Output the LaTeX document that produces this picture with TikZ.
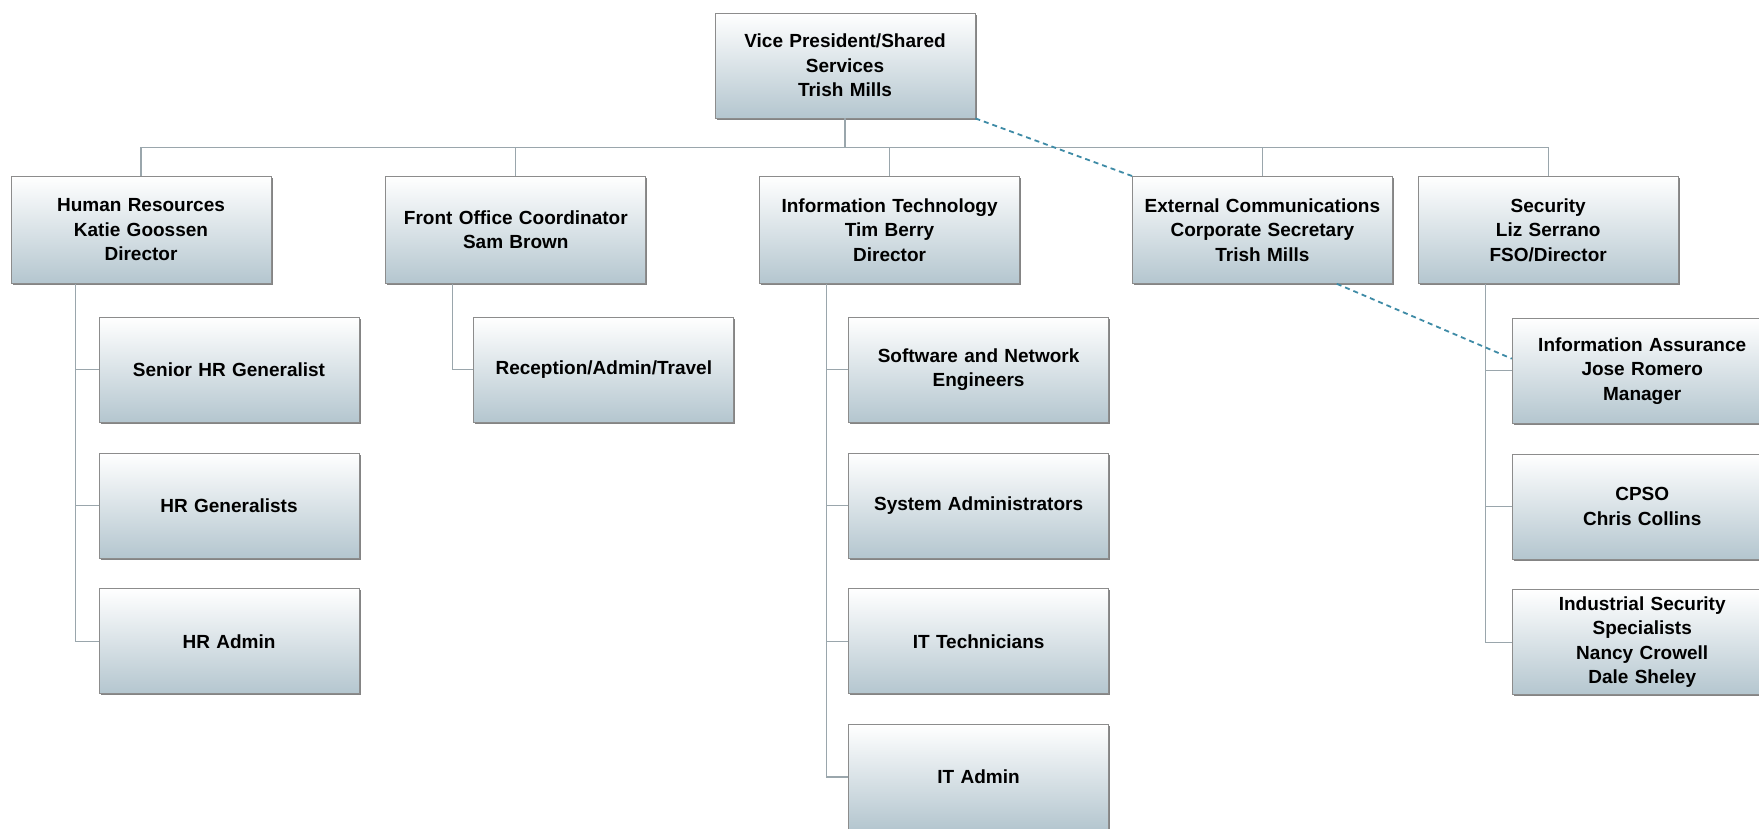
\documentclass[tikz,border=0pt]{standalone}
\usepackage{fontspec}
\setmainfont{Liberation Sans}
\usetikzlibrary{positioning,shadows}
\definecolor{boxblue}{HTML}{B4C6CF}
\definecolor{linegray}{HTML}{9AA6AC}
\definecolor{dashteal}{HTML}{3E8BA6}

\begin{document}
\begin{tikzpicture}
\tikzset{box/.style={draw=black!45, line width=0.8pt, top color=white, bottom color=boxblue,
		drop shadow={shadow xshift=1.6pt, shadow yshift=-1.6pt, fill=black!60, opacity=0.8},
		minimum width=260pt, minimum height=107pt, text width=252pt, inner sep=0pt, align=center,
		font=\fontsize{19}{24.5}\selectfont\bfseries},
	kid/.style={box, minimum height=105pt},
	conn/.style={draw=linegray, line width=1.3pt},
	dotline/.style={draw=dashteal, line width=1.8pt, dash pattern=on 5pt off 4pt}}
	\fill[white] (0,0) rectangle (1759pt,-828pt);
	\useasboundingbox (0,0) rectangle (1759pt,-828pt);

	\node[box, minimum height=105pt] (vp) at (845pt,-65.5pt) {Vice President/Shared\\Services\\Trish Mills};
	\node[box, anchor=north] (hr) at (141pt,-176pt) {Human Resources\\Katie Goossen\\Director};
	\node[box, right=114pt of hr] (fo) {Front Office Coordinator\\Sam Brown};
	\node[box, right=113pt of fo] (it) {Information Technology\\Tim Berry\\Director};
	\node[box, right=112pt of it] (ext) {External Communications\\Corporate Secretary\\Trish Mills};
	\node[box, right=25pt of ext] (sec) {Security\\Liz Serrano\\FSO/Director};

	\node[kid, anchor=north west] (shg) at ([xshift=88pt,yshift=-33pt]hr.south west) {Senior HR Generalist};
	\node[kid, below=30pt of shg] (hrg) {HR Generalists};
	\node[kid, below=30pt of hrg] (hra) {HR Admin};

	\node[kid, anchor=north west] (rec) at ([xshift=88pt,yshift=-33pt]fo.south west) {Reception/Admin/Travel};

	\node[kid, anchor=north west] (sne) at ([xshift=89pt,yshift=-33pt]it.south west) {Software and Network\\Engineers};
	\node[kid, below=30pt of sne] (sys) {System Administrators};
	\node[kid, below=30pt of sys] (itt) {IT Technicians};
	\node[kid, below=30pt of itt] (ita) {IT Admin};

	\node[kid, anchor=north west] (ia) at ([xshift=94pt,yshift=-34pt]sec.south west) {Information Assurance\\Jose Romero\\Manager};
	\node[kid, below=30pt of ia] (cpso) {CPSO\\Chris Collins};
	\node[kid, below=30pt of cpso] (iss) {Industrial Security\\Specialists\\Nancy Crowell\\Dale Sheley};

	\begin{scope}[on background layer/.try]
	\coordinate (bus) at ([yshift=-29pt]vp.south);
	\foreach \n in {hr,fo,it,ext,sec}
		\draw[conn] (vp.south) -- (bus) -| (\n.north);
	\foreach \k in {shg,hrg,hra}
		\draw[conn] ([xshift=65pt]hr.south west) |- (\k.west);
	\draw[conn] ([xshift=67pt]fo.south west) |- (rec.west);
	\foreach \k in {sne,sys,itt,ita}
		\draw[conn] ([xshift=67pt]it.south west) |- (\k.west);
	\foreach \k in {ia,cpso,iss}
		\draw[conn] ([xshift=68pt]sec.south west) |- (\k.west);
	\end{scope}

	\draw[dotline] (vp.south east) -- (ext.north west);
	\draw[dotline] ([xshift=-56pt]ext.south east) -- ([yshift=12pt]ia.west);
\end{tikzpicture}
\end{document}
